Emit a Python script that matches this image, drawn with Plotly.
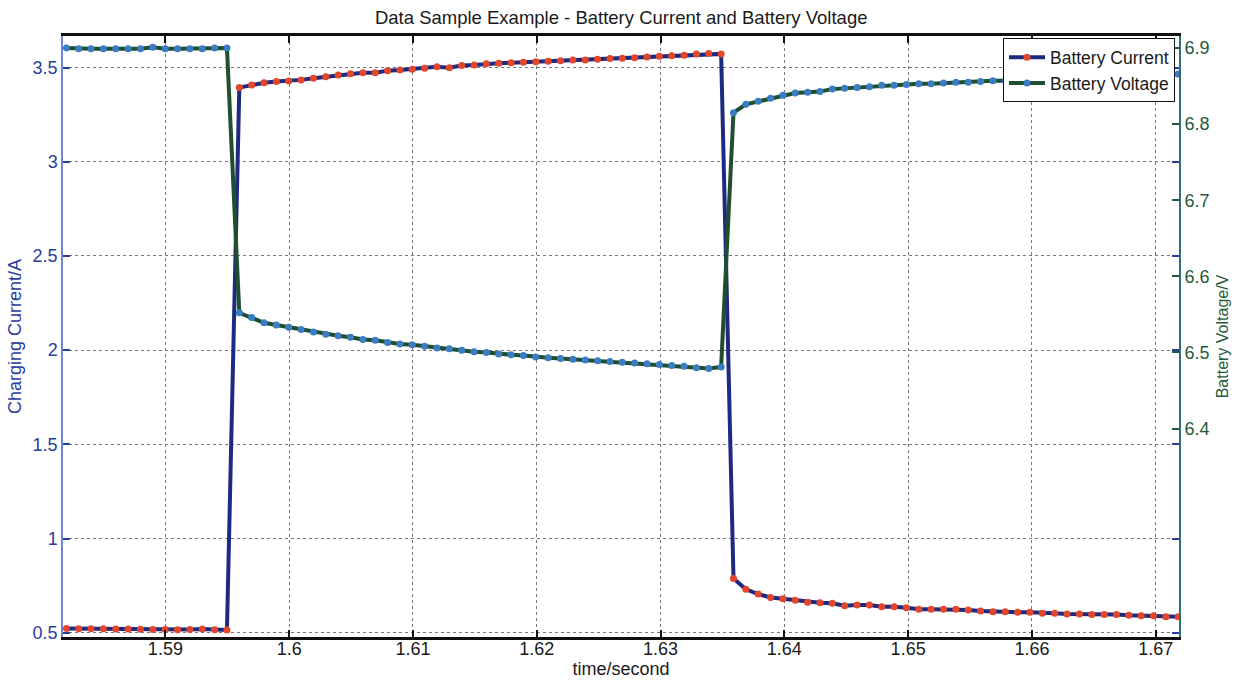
import numpy as np
import plotly.graph_objects as go

# sample times (s): 91 samples, ~1 ms period
t_start = 1.582
t_step = 0.000998
n_samples = 91
time_s = np.round(t_start + np.arange(n_samples) * t_step, 6)

battery_current = [
    0.522, 0.521, 0.521, 0.521, 0.520, 0.520, 0.518, 0.517, 0.517, 0.516, 0.517, 0.519, 0.516, 0.514,
    3.394, 3.408, 3.420, 3.426, 3.429, 3.435, 3.444, 3.452, 3.461, 3.467, 3.473, 3.473, 3.484, 3.488,
    3.492, 3.497, 3.505, 3.500, 3.511, 3.514, 3.520, 3.523,
    3.526, 3.529, 3.531, 3.534, 3.537, 3.540, 3.541, 3.545, 3.548, 3.550, 3.553, 3.556, 3.560, 3.563,
    3.566, 3.572, 3.575, 3.573,
    0.788, 0.730, 0.705, 0.687, 0.680, 0.672, 0.662, 0.659, 0.656, 0.643,
    0.647, 0.647, 0.638, 0.638, 0.632, 0.624, 0.624, 0.624, 0.624, 0.620, 0.615, 0.611, 0.611, 0.608,
    0.608, 0.603, 0.603, 0.599, 0.599, 0.597, 0.597, 0.597, 0.592, 0.590, 0.590, 0.585, 0.585,
]

battery_voltage = [
    6.900, 6.899, 6.899, 6.899, 6.899, 6.899, 6.899, 6.901, 6.899, 6.899, 6.899, 6.899, 6.900, 6.900,
    6.552, 6.546, 6.539, 6.536, 6.533, 6.530, 6.527, 6.524, 6.522, 6.520, 6.517, 6.516, 6.513, 6.511,
    6.510, 6.508, 6.506, 6.505, 6.503, 6.501, 6.500, 6.498,
    6.497, 6.496, 6.494, 6.493, 6.492, 6.491, 6.490, 6.489, 6.488, 6.487, 6.486, 6.485, 6.484, 6.483,
    6.482, 6.480, 6.479, 6.481,
    6.815, 6.826, 6.830, 6.834, 6.838, 6.841, 6.842, 6.843, 6.846, 6.847, 6.848, 6.849, 6.851,
    6.851, 6.852, 6.853, 6.853, 6.854, 6.855, 6.855, 6.856, 6.857, 6.857, 6.858, 6.858, 6.859, 6.859,
    6.860, 6.860, 6.861, 6.861, 6.862, 6.862, 6.863, 6.863, 6.864, 6.866,
]

x_ticks = [1.59, 1.60, 1.61, 1.62, 1.63, 1.64, 1.65, 1.66, 1.67]
x_tick_labels = ["1.59", "1.6", "1.61", "1.62", "1.63", "1.64", "1.65", "1.66", "1.67"]
current_ticks = [0.5, 1.0, 1.5, 2.0, 2.5, 3.0, 3.5]
current_tick_labels = ["0.5", "1", "1.5", "2", "2.5", "3", "3.5"]
voltage_ticks = [6.4, 6.5, 6.6, 6.7, 6.8, 6.9]
voltage_tick_labels = ["6.4", "6.5", "6.6", "6.7", "6.8", "6.9"]

FONT = "Liberation Sans, Arial, sans-serif"
NAVY = "#1d2a80"
RED = "#e2472c"
DKGREEN = "#1f4f2f"
STEEL = "#3a7dc2"
LBLUE = "#2b3c9e"
RGREEN = "#1f5a3a"
BLACK = "#1a1a1a"

fig = go.Figure()
fig.add_trace(go.Scatter(
    x=time_s, y=battery_current, name="Battery Current", mode="lines+markers",
    line=dict(color=NAVY, width=4),
    marker=dict(color=RED, size=7, line=dict(width=0)),
    yaxis="y",
))
fig.add_trace(go.Scatter(
    x=time_s, y=battery_voltage, name="Battery Voltage", mode="lines+markers",
    line=dict(color=DKGREEN, width=4),
    marker=dict(color=STEEL, size=7, line=dict(width=0)),
    yaxis="y2",
))

fig.update_layout(
    width=1235, height=681,
    margin=dict(l=63, r=56, t=36, b=44, autoexpand=False),
    paper_bgcolor="white", plot_bgcolor="white",
    font=dict(family=FONT, size=18, color=BLACK),
    title=dict(text="Data Sample Example - Battery Current and Battery Voltage",
               x=0.503, xanchor="center", y=0.975, yanchor="middle",
               font=dict(family=FONT, size=18.5, color=BLACK)),
    showlegend=True,
    legend=dict(x=0.9964, y=0.996, xanchor="right", yanchor="top",
                bgcolor="white", bordercolor="#111", borderwidth=1,
                font=dict(family=FONT, size=17.5, color=BLACK),
                tracegroupgap=0, itemwidth=36),
    xaxis=dict(
        range=[1.58173, 1.67188], tickvals=x_ticks, ticktext=x_tick_labels,
        ticks="inside", ticklen=7, tickwidth=1.5, tickcolor="#111",
        showline=True, linecolor="#111", linewidth=2.5, mirror="ticks",
        showgrid=True, gridcolor="#777", gridwidth=1, griddash="dot",
        zeroline=False, ticklabelstandoff=-6,
        tickfont=dict(family=FONT, size=18, color=BLACK),
        title=dict(text="time/second", standoff=3,
                   font=dict(family=FONT, size=18, color=BLACK)),
    ),
    yaxis=dict(
        range=[0.477, 3.668], tickvals=current_ticks, ticktext=current_tick_labels,
        ticks="inside", ticklen=7, tickwidth=1.5, tickcolor=LBLUE,
        showline=True, linecolor="#6f86d6", linewidth=1.5, mirror="ticks",
        showgrid=True, gridcolor="#777", gridwidth=1, griddash="dot",
        zeroline=False,
        tickfont=dict(family=FONT, size=18, color=LBLUE),
        title=dict(text="Charging Current/A", standoff=6,
                   font=dict(family=FONT, size=18, color=LBLUE)),
    ),
    yaxis2=dict(
        range=[6.1261, 6.9158], tickvals=voltage_ticks, ticktext=voltage_tick_labels,
        overlaying="y", side="right",
        ticks="inside", ticklen=7, tickwidth=1.5, tickcolor=RGREEN,
        showline=True, linecolor="#2f6e73", linewidth=2,
        showgrid=False, zeroline=False,
        tickfont=dict(family=FONT, size=18, color=RGREEN),
        title=dict(text="Battery Voltage/V", standoff=8,
                   font=dict(family=FONT, size=16, color=RGREEN)),
    ),
)

fig.write_html("out.html", config={"displayModeBar": False},
               post_script="document.body.style.margin='0';")
